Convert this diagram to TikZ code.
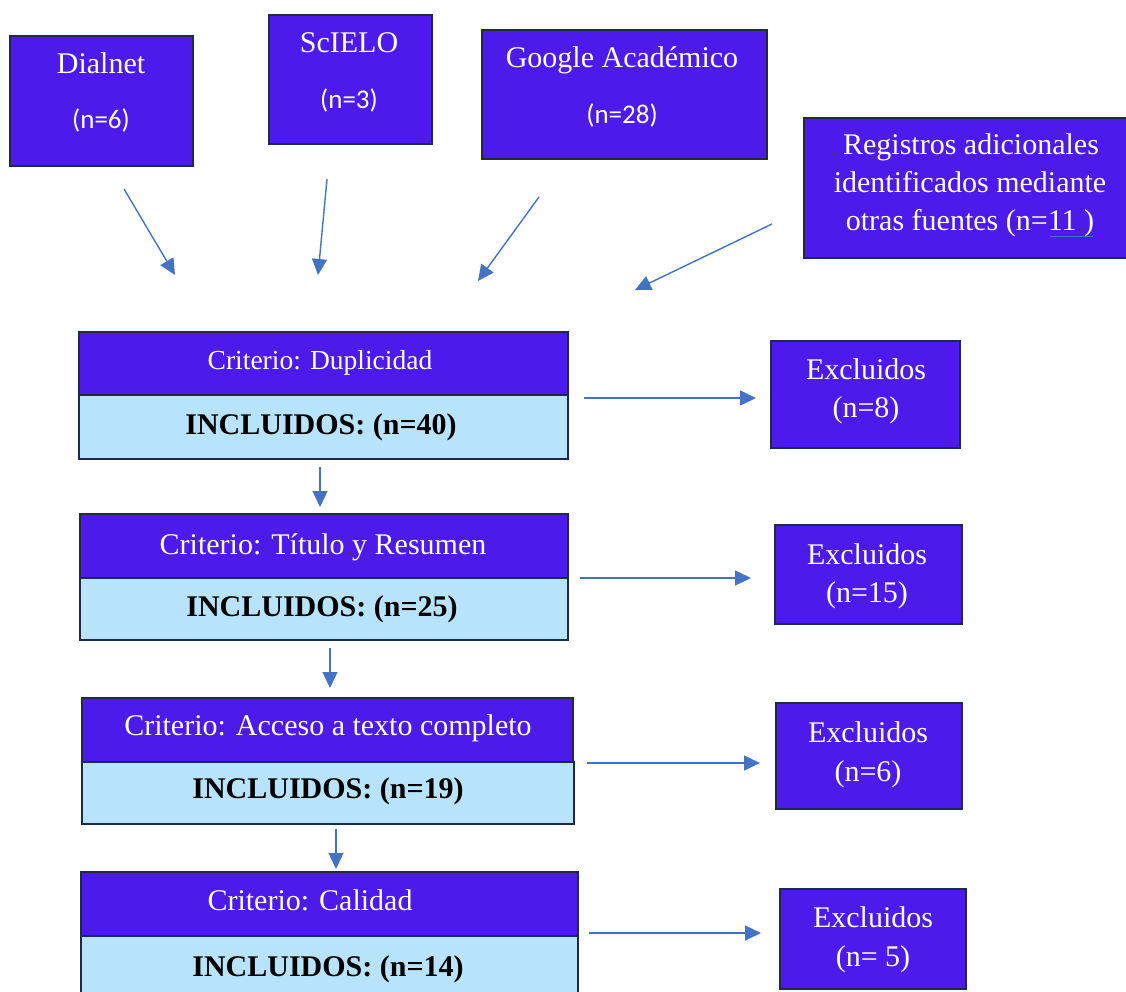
\documentclass[tikz,border=0pt]{standalone}
\usepackage{fontspec}
\setmainfont{Liberation Serif}
\newfontfamily\calib{Carlito}
\usetikzlibrary{arrows.meta}
\definecolor{boxblue}{RGB}{76,26,234}
\definecolor{boxlight}{RGB}{184,228,251}
\definecolor{edgec}{RGB}{30,42,74}
\definecolor{arrowc}{RGB}{68,114,196}
\tikzset{
 box/.style={draw=edgec, line width=2pt, fill=boxblue, anchor=north west, inner sep=0pt},
 lbox/.style={box, fill=boxlight},
 wt/.style={text=white, font=\fontsize{30}{38}\selectfont, anchor=base, inner sep=0pt},
 wtsmall/.style={text=white, font=\fontsize{27.5}{34}\selectfont, anchor=base, inner sep=0pt},
 wts/.style={text=white, font=\calib\fontsize{27}{32}\selectfont, anchor=base, inner sep=0pt},
 bt/.style={text=black, font=\bfseries\fontsize{30}{38}\selectfont, anchor=base, inner sep=0pt},
 arr/.style={draw=arrowc, line width=1.4pt, -{Triangle[length=16pt,width=15pt]}},
}
\newcommand\mkbox[6]{\node[#6, minimum width=#4pt-#2pt, minimum height=#5pt-#3pt] (#1) at (#2,#3) {};}
\begin{document}
\begin{tikzpicture}[x=1pt,y=-1pt]
\useasboundingbox (0,0) rectangle (1126,992);
% source boxes
\mkbox{dialnet}{9}{35}{192}{165}{box}
\mkbox{scielo}{268}{14}{431}{143}{box}
\mkbox{google}{481}{29}{766}{158}{box}
\mkbox{otras}{803}{117}{1135}{257}{box}
\node[wt] (t1) at (101,74) {Dialnet};
\node[wts] (t1n) at (101,129) {(n=6)};
\node[wt] (t2) at (349,53) {ScIELO};
\node[wts] (t2n) at (349,109) {(n=3)};
\node[wt] (t3) at (622,68) {Google Académico};
\node[wts] (t3n) at (622,124) {(n=28)};
\node[wt] (t4a) at (971,155) {Registros adicionales};
\node[wt] (t4b) at (970,193) {identificados mediante};
\node[wt] (t4c) at (970,231) {otras fuentes (n=11 )};
\draw[arrowc, line width=0.8pt] (1050,236) -- (1093,236);
% criteria
\mkbox{c1}{78}{331}{567}{394}{box}
\mkbox{i1}{78}{394}{567}{458}{lbox}
\node[wtsmall] (c1t) at (320,369) {Criterio: Duplicidad};
\node[bt] (i1t) at (321,434) {INCLUIDOS: (n=40)};
\mkbox{c2}{79}{513}{567}{577}{box}
\mkbox{i2}{79}{577}{567}{639}{lbox}
\node[wt] (c2t) at (323,554) {Criterio: Título y Resumen};
\node[bt] (i2t) at (322,616) {INCLUIDOS: (n=25)};
\mkbox{c3}{81}{697}{572}{761}{box}
\mkbox{i3}{81}{761}{573}{823}{lbox}
\node[wt] (c3t) at (328,735) {Criterio: Acceso a texto completo};
\node[bt] (i3t) at (328,798) {INCLUIDOS: (n=19)};
\mkbox{c4}{80}{871}{577}{935}{box}
\mkbox{i4}{80}{935}{577}{1000}{lbox}
\node[wt] (c4t) at (310,910) {Criterio: Calidad};
\node[bt] (i4t) at (328,976) {INCLUIDOS: (n=14)};
% excluded
\mkbox{e1}{770}{340}{959}{447}{box}
\node[wt] (e1a) at (866,379) {Excluidos};
\node[wt] (e1b) at (866,417) {(n=8)};
\mkbox{e2}{774}{524}{961}{623}{box}
\node[wt] (e2a) at (867,564) {Excluidos};
\node[wt] (e2b) at (867,602) {(n=15)};
\mkbox{e3}{775}{702}{961}{808}{box}
\node[wt] (e3a) at (868,742) {Excluidos};
\node[wt] (e3b) at (868,781) {(n=6)};
\mkbox{e4}{779}{888}{965}{988}{box}
\node[wt] (e4a) at (873,927) {Excluidos};
\node[wt] (e4b) at (873,966) {(n= 5)};
% arrow endpoints
\coordinate (a1s) at (124,189); \coordinate (a1e) at (175,275);
\coordinate (a2s) at (327,179); \coordinate (a2e) at (318,275);
\coordinate (a3s) at (539,197); \coordinate (a3e) at (478,281);
\coordinate (a4s) at (772,224); \coordinate (a4e) at (635,290);
\coordinate (h1s) at (584,398); \coordinate (h1e) at (756,398);
\coordinate (h2s) at (580,578); \coordinate (h2e) at (751,578);
\coordinate (h3s) at (587,763); \coordinate (h3e) at (760,763);
\coordinate (h4s) at (589,933); \coordinate (h4e) at (761,933);
\coordinate (v1s) at (320,467); \coordinate (v1e) at (320,507);
\coordinate (v2s) at (330,648); \coordinate (v2e) at (330,688);
\coordinate (v3s) at (336,829); \coordinate (v3e) at (336,869);
\foreach \p in {a1,a2,a3,a4,h1,h2,h3,h4,v1,v2,v3}
  \draw[arr] (\p s) -- (\p e);
\end{tikzpicture}
\end{document}
